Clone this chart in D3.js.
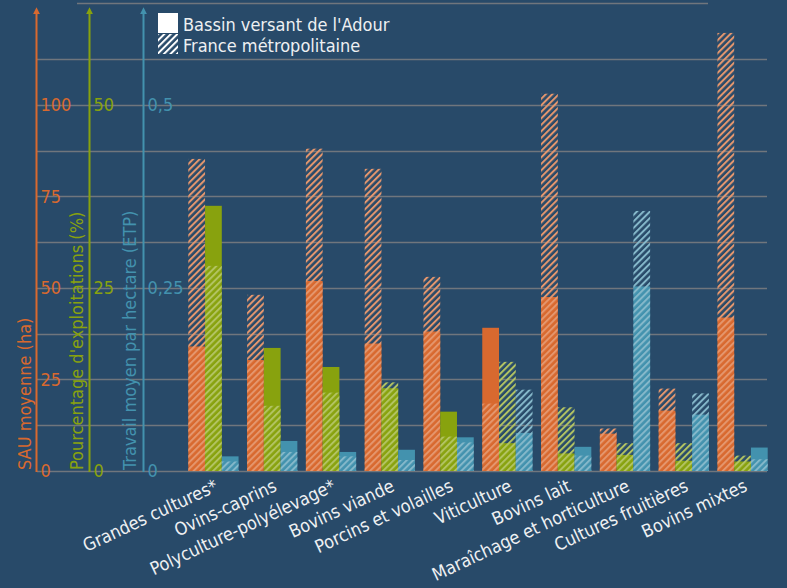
<!DOCTYPE html>
<html>
<head>
<meta charset="utf-8">
<script src="https://cdn.jsdelivr.net/npm/d3@7"></script>
<style>
  body { margin: 0; background: #284a69; }
  svg { display: block; font-family: "DejaVu Sans Condensed", "DejaVu Sans", sans-serif; font-stretch: condensed; }
</style>
</head>
<body>
<svg id="chart" width="787" height="588"></svg>
<script>
var categories = ["Grandes cultures*", "Ovins-caprins", "Polyculture-polyélevage*", "Bovins viande",
  "Porcins et volailles", "Viticulture", "Bovins lait", "Maraîchage et horticulture",
  "Cultures fruitières", "Bovins mixtes"];

// SAU moyenne (ha)
var sauAdour  = [34.0, 30.3, 51.9, 34.8, 38.1, 39.1, 47.5, 10.2, 16.5, 41.9];
var sauFrance = [85.2, 48.1, 88.0, 82.5, 53.0, 18.4, 103.0, 11.6, 22.5, 119.6];
// Pourcentage d'exploitations (%)
var pctAdour  = [36.2, 16.8, 14.2, 11.3, 8.1, 3.8, 2.4, 2.2, 1.4, 1.3];
var pctFrance = [28.0, 8.9, 10.7, 12.1, 4.7, 14.9, 8.7, 3.8, 3.8, 2.1];
// Travail moyen par hectare (ETP)
var etpAdour  = [0.020, 0.041, 0.026, 0.029, 0.046, 0.052, 0.033, 0.252, 0.077, 0.032];
var etpFrance = [0.013, 0.026, 0.020, 0.015, 0.039, 0.111, 0.021, 0.355, 0.106, 0.016];

var sauTicks = [0, 25, 50, 75, 100];
var pctTicks = [0, 25, 50];
var etpTicks = [0, 0.25, 0.5];

var legendLabels = ["Bassin versant de l'Adour", "France métropolitaine"];

var orange = "#d8692f", green = "#88a20e", blue = "#4392ae";
var gridColor = "#70767d";
var textColor = "#eef0f2";

var svg = d3.select("#chart");
var base = 471, plotTop = 4;

var ySau = d3.scaleLinear().domain([0, 127.5]).range([base, plotTop]);
var yPct = d3.scaleLinear().domain([0, 63.75]).range([base, plotTop]);
var yEtp = d3.scaleLinear().domain([0, 0.6375]).range([base, plotTop]);

var x = d3.scaleBand().domain(categories).range([184, 772]).paddingInner(0.145).paddingOuter(0.073);
var series = ["sau", "pct", "etp"];
var xs = d3.scaleBand().domain(series).range([0, x.bandwidth()]);

var defs = svg.append("defs");
function hatch(id, color) {
  var p = defs.append("pattern")
    .attr("id", id)
    .attr("patternUnits", "userSpaceOnUse")
    .attr("width", 4.6).attr("height", 4.6)
    .attr("patternTransform", "rotate(45)");
  p.append("rect")
    .attr("x", 0).attr("y", 0).attr("width", 2).attr("height", 4.6)
    .attr("fill", color);
}
hatch("h-sau", d3.interpolateRgb(orange, "#fff")(0.3));
hatch("h-pct", d3.interpolateRgb(green, "#fff")(0.35));
hatch("h-etp", d3.interpolateRgb(blue, "#fff")(0.35));
hatch("h-white", "#fff");

defs.selectAll("marker")
  .data([["a-sau", orange], ["a-pct", green], ["a-etp", blue]])
  .enter().append("marker")
  .attr("id", function(d) { return d[0]; })
  .attr("viewBox", "0 0 10 10")
  .attr("refX", 2).attr("refY", 5)
  .attr("markerWidth", 3.6).attr("markerHeight", 3.6)
  .attr("markerUnits", "strokeWidth")
  .attr("orient", "auto")
  .append("path")
  .attr("d", "M0,0 L10,5 L0,10 Z")
  .attr("fill", function(d) { return d[1]; });

// gridlines
var gridVals = d3.range(0, 113, 12.5);
svg.append("g")
  .selectAll("line")
  .data(gridVals)
  .enter().append("line")
  .attr("x1", 37).attr("x2", 767)
  .attr("y1", function(d) { return Math.round(ySau(d)) + 0.5; })
  .attr("y2", function(d) { return Math.round(ySau(d)) + 0.5; })
  .attr("stroke", gridColor).attr("stroke-width", 1.5);

svg.append("line")
  .attr("x1", 77).attr("x2", 708)
  .attr("y1", 3.5).attr("y2", 3.5)
  .attr("stroke", gridColor).attr("stroke-width", 1.5);

// bars
var keys = {
  sau: { adour: sauAdour, france: sauFrance, y: ySau, color: orange },
  pct: { adour: pctAdour, france: pctFrance, y: yPct, color: green },
  etp: { adour: etpAdour, france: etpFrance, y: yEtp, color: blue }
};

var groups = svg.append("g").selectAll("g")
  .data(categories)
  .enter().append("g")
  .attr("transform", function(d) { return "translate(" + x(d) + ",0)"; });

series.forEach(function(s) {
  var k = keys[s];
  groups.append("rect")
    .attr("x", xs(s))
    .attr("width", xs.bandwidth())
    .attr("y", function(d, i) { return k.y(k.adour[i]); })
    .attr("height", function(d, i) { return base - k.y(k.adour[i]); })
    .attr("fill", k.color);
  groups.append("rect")
    .attr("x", xs(s))
    .attr("width", xs.bandwidth())
    .attr("y", function(d, i) { return k.y(k.france[i]); })
    .attr("height", function(d, i) { return base - k.y(k.france[i]); })
    .attr("fill", "url(#h-" + s + ")");
});

// vertical axes
var fmt = function(d) { return String(d).replace(".", ","); };
var axes = [
  { x: 36.5, scale: ySau, ticks: sauTicks, color: orange, id: "a-sau", title: "SAU moyenne (ha)", tx: 31 },
  { x: 89.5, scale: yPct, ticks: pctTicks, color: green, id: "a-pct", title: "Pourcentage d'exploitations (%)", tx: 83 },
  { x: 143.5, scale: yEtp, ticks: etpTicks, color: blue, id: "a-etp", title: "Travail moyen par hectare (ETP)", tx: 136 }
];

axes.forEach(function(a) {
  var g = svg.append("g")
    .attr("transform", "translate(" + a.x + ",0)")
    .call(d3.axisRight(a.scale).tickValues(a.ticks).tickSize(0).tickPadding(4).tickFormat(fmt));
  g.select(".domain").remove();
  g.attr("font-family", null).attr("font-size", null);
  g.selectAll("text")
    .attr("fill", a.color)
    .style("font-size", "18px");
  svg.append("line")
    .attr("x1", a.x).attr("x2", a.x)
    .attr("y1", base + 1).attr("y2", 13)
    .attr("stroke", a.color).attr("stroke-width", 2)
    .attr("marker-end", "url(#" + a.id + ")");
  svg.append("text")
    .attr("transform", "translate(" + a.tx + "," + (base - 1) + ") rotate(-90)")
    .attr("fill", a.color)
    .style("font-size", "18px")
    .text(a.title);
});

// x labels
svg.append("g").selectAll("text")
  .data(categories)
  .enter().append("text")
  .attr("transform", function(d) { return "translate(" + (x(d) + x.bandwidth() / 2 + 0) + ",478) rotate(-25)"; })
  .attr("text-anchor", "end")
  .attr("dy", "0.75em")
  .attr("fill", textColor)
  .style("font-size", "18px")
  .text(function(d) { return d; });

// legend
var legend = svg.append("g").attr("transform", "translate(158,13)");
legend.selectAll("rect")
  .data(legendLabels)
  .enter().append("rect")
  .attr("x", 0)
  .attr("y", function(d, i) { return i * 21; })
  .attr("width", 20).attr("height", 20)
  .attr("fill", function(d, i) { return i === 0 ? "#fff" : "url(#h-white)"; });
legend.selectAll("text")
  .data(legendLabels)
  .enter().append("text")
  .attr("x", 25)
  .attr("y", function(d, i) { return 18 + i * 21; })
  .attr("fill", textColor)
  .style("font-size", "18px")
  .text(function(d) { return d; });
</script>
</body>
</html>
